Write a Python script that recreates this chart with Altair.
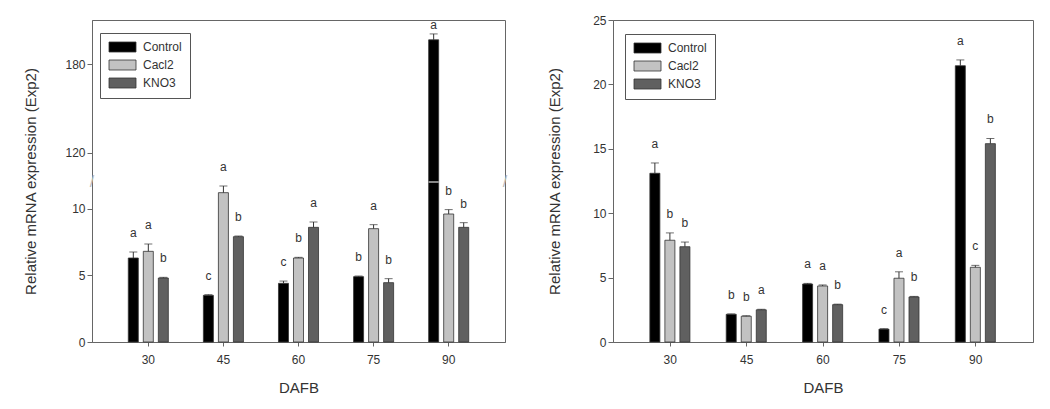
import altair as alt
import pandas as pd

FONT = "Liberation Sans"

dafb = [30, 45, 60, 75, 90]
treatments = ["Control", "Cacl2", "KNO3"]
colors = ["#000000", "#c2c2c2", "#606060"]

# ---- Left panel (broken y axis) ----
left_control = [6.3, 3.5, 4.4, 4.9, 196.5]
left_control_se = [0.45, 0.05, 0.17, 0.05, 4.0]
left_cacl2 = [6.8, 11.2, 6.3, 8.5, 9.6]
left_cacl2_se = [0.55, 0.5, 0.05, 0.3, 0.33]
left_kno3 = [4.8, 7.9, 8.6, 4.45, 8.6]
left_kno3_se = [0.05, 0.05, 0.4, 0.3, 0.35]
left_control_letters = ["a", "c", "c", "b", "a"]
left_cacl2_letters = ["a", "a", "b", "a", "b"]
left_kno3_letters = ["b", "b", "a", "b", "b"]

left_lower_ticks = [0, 5, 10]
left_upper_ticks = [120, 180]
break_low = 12      # top of the lower segment
break_high = 100    # bottom of the upper segment
upper_k = 0.1105    # compression of the upper segment
left_top = 210

# ---- Right panel ----
right_control = [13.1, 2.15, 4.5, 1.0, 21.45]
right_control_se = [0.8, 0.03, 0.05, 0.03, 0.45]
right_cacl2 = [7.9, 2.0, 4.35, 4.95, 5.8]
right_cacl2_se = [0.57, 0.04, 0.08, 0.5, 0.15]
right_kno3 = [7.4, 2.5, 2.9, 3.5, 15.4]
right_kno3_se = [0.36, 0.04, 0.04, 0.04, 0.4]
right_control_letters = ["a", "b", "a", "c", "a"]
right_cacl2_letters = ["b", "b", "a", "a", "c"]
right_kno3_letters = ["b", "a", "b", "b", "b"]
right_ticks = [0, 5, 10, 15, 20, 25]


def make_df(vals, ses, letters):
    rows = []
    for tr, v, s, l in zip(treatments, vals, ses, letters):
        for d, vi, si, li in zip(dafb, v, s, l):
            rows.append({"dafb": d, "treatment": tr, "value": vi, "se": si, "letter": li})
    return pd.DataFrame(rows)


left_df = make_df([left_control, left_cacl2, left_kno3],
                  [left_control_se, left_cacl2_se, left_kno3_se],
                  [left_control_letters, left_cacl2_letters, left_kno3_letters])
right_df = make_df([right_control, right_cacl2, right_kno3],
                   [right_control_se, right_cacl2_se, right_kno3_se],
                   [right_control_letters, right_cacl2_letters, right_kno3_letters])


def tf(expr):
    return (f"({expr}) <= {break_low} ? ({expr}) : "
            f"{break_low} + (({expr}) - {break_high}) * {upper_k}")


def t_of(v):
    return v if v <= break_low else break_low + (v - break_high) * upper_k


def panel(df, width, height, ymax, axis, legend_xy, broken):
    x = alt.X("dafb:N", sort=dafb, title="DAFB",
              scale=alt.Scale(paddingInner=0.4, paddingOuter=0.45),
              axis=alt.Axis(labelAngle=0, tickSize=4, labelPadding=8, titlePadding=15))
    xo = alt.XOffset("treatment:N", sort=treatments,
                     scale=alt.Scale(domain=treatments, paddingInner=1 / 3, paddingOuter=1 / 6))
    yscale = alt.Scale(domain=[0, ymax], nice=False, zero=True)
    base = alt.Chart(df)
    if broken:
        base = base.transform_calculate(
            t=tf("datum.value"),
            te=tf("datum.value + datum.se"),
        ).transform_calculate(
            tl=f"min(datum.te, {t_of(left_top) - 1.8})"
        )
    else:
        base = base.transform_calculate(
            t="datum.value", te="datum.value + datum.se", tl="datum.value + datum.se")

    bars = base.mark_bar(stroke="#333333", strokeWidth=0.8).encode(
        x=x, xOffset=xo,
        y=alt.Y("t:Q", scale=yscale, axis=axis),
        color=alt.Color("treatment:N", sort=treatments,
                        scale=alt.Scale(domain=treatments, range=colors),
                        legend=alt.Legend(
                            title=None, orient="none",
                            legendX=legend_xy[0], legendY=legend_xy[1],
                            symbolType="M-1,-1H4.4V1H-1Z",
                            symbolSize=100, symbolStrokeColor="#333333",
                            symbolStrokeWidth=0.8, symbolOpacity=1,
                            labelFontSize=12, labelFont=FONT, labelColor="#333333",
                            labelOffset=23, rowPadding=4,
                            strokeColor="#555555", fillColor="white", padding=8)),
    )
    err = base.mark_rule(strokeWidth=1).encode(
        x=x, xOffset=xo, y="t:Q", y2="te:Q", color=alt.value("#333333"))
    cap = base.mark_tick(thickness=1, size=8).encode(
        x=x, xOffset=xo, y="te:Q", color=alt.value("#333333"))
    letters = base.mark_text(fontSize=12, font=FONT,
                             baseline="alphabetic", dy=-15).encode(
        x=x, xOffset=xo, y="tl:Q", text="letter:N", color=alt.value("#333333"))
    layers = [bars, err, cap, letters]
    if broken:
        brk = base.transform_filter(f"datum.value > {break_low}").mark_tick(
            thickness=1.5, size=10).encode(
            x=x, xOffset=xo, y=alt.datum(break_low), color=alt.value("white"))
        bdf = pd.DataFrame({"t": [break_low]})
        marks_l = alt.Chart(bdf).mark_text(text="/", fontSize=16, font=FONT).encode(
            x=alt.value(0), y="t:Q", color=alt.value("#bbbbbb"))
        marks_r = alt.Chart(bdf).mark_text(text="/", fontSize=16, font=FONT).encode(
            x=alt.value(width), y="t:Q", color=alt.value("#bbbbbb"))
        layers += [brk, marks_l, marks_r]
    return alt.layer(*layers).properties(width=width, height=height)


PX_PER_UNIT = 160 / 12
LEFT_H = 322
upper_vals = [t_of(v) for v in left_upper_ticks]
label_expr = (f"datum.value > {break_low} ? "
              f"format(round({break_high} + (datum.value - {break_low}) / {upper_k}), 'd')"
              f" : format(datum.value, 'd')")
left_axis = alt.Axis(title="Relative mRNA expression (Exp2)", grid=False,
                     values=left_lower_ticks + upper_vals, labelExpr=label_expr,
                     tickSize=5, titlePadding=26)
right_axis = alt.Axis(title="Relative mRNA expression (Exp2)", grid=False,
                      values=right_ticks, tickSize=5, titlePadding=30)

left = panel(left_df, 413, LEFT_H, LEFT_H / PX_PER_UNIT, left_axis, (8, 13), True)
right = panel(right_df, 420, LEFT_H, 25, right_axis, (12, 14), False)

chart = alt.hconcat(left, right, spacing=39).resolve_scale(
    color="independent").resolve_legend(color="independent").properties(
    padding={"left": 23, "top": 13, "right": 5, "bottom": 5}
).configure(font=FONT).configure_view(
    stroke="#666666", strokeWidth=1
).configure_axis(
    labelFont=FONT, titleFont=FONT, labelFontSize=12, titleFontSize=15,
    titleFontWeight="normal", labelColor="#333333", titleColor="#333333",
    domainColor="#666666", tickColor="#666666"
)

chart.save("out.html", embed_options={"renderer": "svg", "actions": False})
